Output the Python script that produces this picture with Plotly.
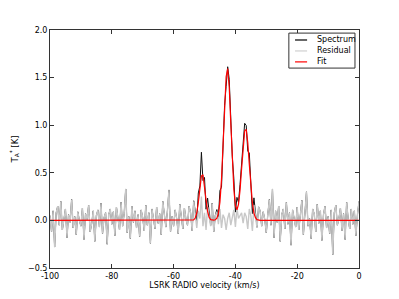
import numpy as np
import plotly.graph_objects as go

# Velocity channels (km/s), 0.5 km/s spacing
v_start, v_stop, v_step = -100.0, 0.0, 0.5

# Residual (spectrum - fit), one value per channel
residual = [
    0.05, -0.12, 0.10, -0.28, 0.08, 0.15, -0.05, 0.20, -0.10, 0.02, 0.12, -0.18, 0.06, -0.02, 0.22, -0.08, 0.04, -0.15, 0.09, 0.00,
    -0.06, 0.13, -0.20, 0.07, 0.01, 0.16, -0.12, -0.03, 0.10, -0.22, 0.05, 0.11, -0.07, 0.18, -0.14, 0.03, 0.08, -0.25, 0.06, 0.12,
    -0.04, 0.09, -0.16, 0.14, 0.02, -0.10, 0.19, -0.06, 0.07, 0.33, -0.13, 0.04, -0.19, 0.15, -0.02, 0.10, -0.08, 0.06, -0.17, 0.11,
    0.03, -0.11, 0.16, -0.05, 0.08, -0.24, 0.12, 0.00, -0.09, 0.14, -0.03, 0.07, -0.15, 0.20, 0.05, -0.07, 0.10, 0.32, -0.12, 0.04,
    -0.06, 0.11, 0.02, -0.14, 0.17, 0.06, -0.09, 0.13, 0.01, -0.05, 0.15, 0.08, -0.11, 0.20, 0.05, -0.08, 0.10, 0.02, 0.25, -0.06,
    0.08, -0.10, 0.14, 0.03, -0.06, 0.18, -0.12, 0.05, 0.09, -0.04, 0.12, -0.08, 0.06, 0.02, -0.10, 0.02, 0.08, -0.05, 0.04, 0.11,
    -0.07, 0.13, 0.02, 0.06, 0.08, -0.03, 0.08, 0.04, -0.09, 0.12, 0.05, -0.11, 0.16, 0.04, -0.08, 0.14, 0.10, -0.06, 0.09, 0.01,
    -0.13, 0.07, 0.22, -0.05, 0.33, -0.18, 0.10, -0.02, 0.15, -0.22, 0.06, 0.12, -0.09, 0.19, -0.04, 0.08, -0.26, 0.11, 0.03, -0.07,
    0.14, -0.10, 0.05, 0.21, -0.15, 0.09, 0.30, -0.06, 0.02, -0.19, 0.12, 0.07, -0.12, 0.17, -0.03, 0.10, -0.21, 0.06, 0.15, -0.08,
    0.04, -0.14, 0.11, -0.36, 0.08, 0.16, -0.05, 0.02, 0.13, -0.11, 0.07, -0.20, 0.19, 0.01, -0.09, 0.12, -0.04, 0.10, -0.16, 0.06,
    0.20,
]

# Fit values over the line region (-56 .. -31 km/s), zero elsewhere
fit_v_start = -56.0
fit_region = [
    0.000, 0.000, 0.000, 0.000, 0.001, 0.006, 0.025, 0.078, 0.188, 0.341,
    0.466, 0.479, 0.371, 0.217, 0.095, 0.032, 0.008, 0.002, 0.002, 0.006,
    0.024, 0.074, 0.195, 0.428, 0.782, 1.190, 1.509, 1.594, 1.403, 1.029,
    0.630, 0.326, 0.157, 0.112, 0.169, 0.318, 0.540, 0.777, 0.940, 0.957,
    0.818, 0.588, 0.356, 0.181, 0.077, 0.028, 0.008, 0.002, 0.001, 0.000,
    0.000,
]

x_ticks = [-100, -80, -60, -40, -20, 0]
x_tick_text = ["-100", "-80", "-60", "-40", "-20", "0"]
y_ticks = [-0.5, 0.0, 0.5, 1.0, 1.5, 2.0]
y_tick_text = ["\u22120.5", "0.0", "0.5", "1.0", "1.5", "2.0"]

legend_names = ["Spectrum", "Residual", "Fit"]
colors = ["#111111", "#c8c8c8", "#ff0000"]
widths = [1.0, 1.4, 1.2]

velocity = np.arange(len(residual)) * v_step + v_start
res = np.array(residual)
fit = np.zeros_like(res)
i0 = int(round((fit_v_start - v_start) / v_step))
fit[i0:i0 + len(fit_region)] = fit_region
spectrum = fit + res

font = "DejaVu Sans"
fig = go.Figure()
for y, name, c, w in zip([spectrum, res, fit], legend_names, colors, widths):
    fig.add_trace(go.Scatter(x=velocity, y=y, mode="lines", name=name,
                             line=dict(color=c, width=w), showlegend=False))

axis_common = dict(showgrid=False, zeroline=False, showline=True, linecolor="#333",
                   linewidth=1, mirror="ticks", ticks="inside", ticklen=4, automargin=False,
                   tickcolor="#333", tickfont=dict(family=font, size=8, color="#000"))
fig.update_xaxes(range=[-100, 0], tickvals=x_ticks, ticktext=x_tick_text,
                 title=dict(text="LSRK RADIO velocity (km/s)", font=dict(family=font, size=8, color="#000"),
                            standoff=2), **axis_common)
fig.update_yaxes(range=[-0.5, 2.0], tickvals=y_ticks, ticktext=y_tick_text,
                 title=dict(text="T<sub>A</sub><sup>*</sup> [K]", font=dict(family=font, size=8.5, color="#000"),
                            standoff=10), **axis_common)

# Legend box (drawn manually to match the compact matplotlib legend)
lx0, lx1, ly0, ly1 = 0.773, 0.987, 0.840, 0.987
fig.add_shape(type="rect", xref="paper", yref="paper", x0=lx0, x1=lx1, y0=ly0, y1=ly1,
              line=dict(color="#333", width=1), fillcolor="white", layer="above")
rows = [0.958, 0.912, 0.866]
legend_line_colors = ["#000000", "#d0d0d0", "#ff0000"]
for ry, name, c in zip(rows, legend_names, legend_line_colors):
    fig.add_shape(type="line", xref="paper", yref="paper", x0=0.793, x1=0.832, y0=ry, y1=ry,
                  line=dict(color=c, width=1.2), layer="above")
    fig.add_annotation(xref="paper", yref="paper", x=0.858, y=ry, text=name, showarrow=False,
                       xanchor="left", yanchor="middle",
                       font=dict(family=font, size=8, color="#000"))

# The page body has an 8 px margin, so the figure is placed at (8, 8)
fig.update_layout(width=391, height=291, margin=dict(l=42, r=40, t=22, b=31),
                  paper_bgcolor="white", plot_bgcolor="white",
                  font=dict(family=font, size=8))
fig.write_html("out.html")
